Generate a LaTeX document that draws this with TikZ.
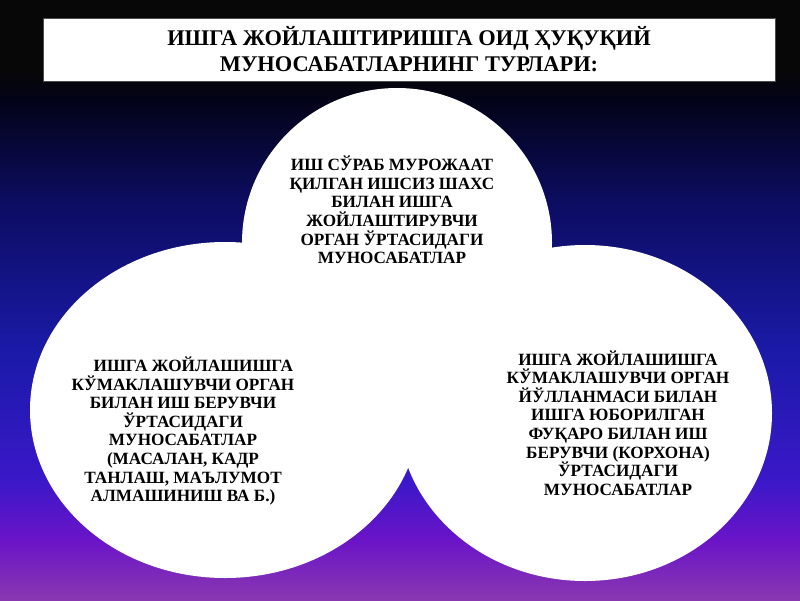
\documentclass[tikz,border=0pt]{standalone}
\usepackage{fontspec}
\setmainfont{Liberation Serif}
\usetikzlibrary{shapes.geometric}
\definecolor{skyA}{HTML}{8A38B0}
\definecolor{skyB}{HTML}{6A14C8}
\definecolor{skyC}{HTML}{3A18C8}
\definecolor{skyD}{HTML}{1A1AA8}
\definecolor{skyE}{HTML}{0C0C60}
\definecolor{skyF}{HTML}{030318}
\definecolor{skyG}{HTML}{070707}
\pgfdeclareverticalshading{nightsky}{100bp}{color(0bp)=(skyA); color(25bp)=(skyA);
  color(30bp)=(skyB); color(35bp)=(skyC); color(45.8bp)=(skyD); color(58.3bp)=(skyE);
  color(66.7bp)=(skyF); color(69.2bp)=(skyG); color(100bp)=(skyG)}

\begin{document}
\begin{tikzpicture}[
  x=1pt, y=-1pt,
  bubble/.style={ellipse, fill=white, inner sep=0pt},
  bubtext/.style={align=center, font=\bfseries\fontsize{17.2}{18.6}\selectfont},
  headbox/.style={draw=black!70, fill=white, minimum width=732pt, minimum height=63pt,
    align=center, font=\bfseries\fontsize{22.4}{26}\selectfont},
]
\shade[shading=nightsky] (0,0) rectangle (800,600);
\useasboundingbox (0,0) rectangle (800,600);

\foreach \nm/\cx/\cy/\bw/\bh in {topbub/397/243/310/310,leftbub/225/410/390/336,rightbub/585/413/374/336}
{
  \node[bubble, minimum width=\bw pt, minimum height=\bh pt] (\nm) at (\cx,\cy) {};
}

\node[headbox] (title) at (409,49.5) {ИШГА ЖОЙЛАШТИРИШГА ОИД ҲУҚУҚИЙ\\ МУНОСАБАТЛАРНИНГ ТУРЛАРИ:};

\node[bubtext] (toptext) at (392,210) {ИШ СЎРАБ МУРОЖААТ\\ ҚИЛГАН ИШСИЗ ШАХС\\ БИЛАН ИШГА\\
  ЖОЙЛАШТИРУВЧИ\\ ОРГАН ЎРТАСИДАГИ\\ МУНОСАБАТЛАР};
\node[bubtext] (lefttext) at (183,431) {\hspace{1.2em}ИШГА ЖОЙЛАШИШГА\\ КЎМАКЛАШУВЧИ ОРГАН\\
  БИЛАН ИШ БЕРУВЧИ\\ ЎРТАСИДАГИ\\ МУНОСАБАТЛАР\\ (МАСАЛАН, КАДР\\ ТАНЛАШ, МАЪЛУМОТ\\
  АЛМАШИНИШ ВА Б.)};
\node[bubtext] (righttext) at (618,423) {ИШГА ЖОЙЛАШИШГА\\ КЎМАКЛАШУВЧИ ОРГАН\\
  ЙЎЛЛАНМАСИ БИЛАН\\ ИШГА ЮБОРИЛГАН\\ ФУҚАРО БИЛАН ИШ\\ БЕРУВЧИ (КОРХОНА)\\
  ЎРТАСИДАГИ\\ МУНОСАБАТЛАР};
\end{tikzpicture}
\end{document}
